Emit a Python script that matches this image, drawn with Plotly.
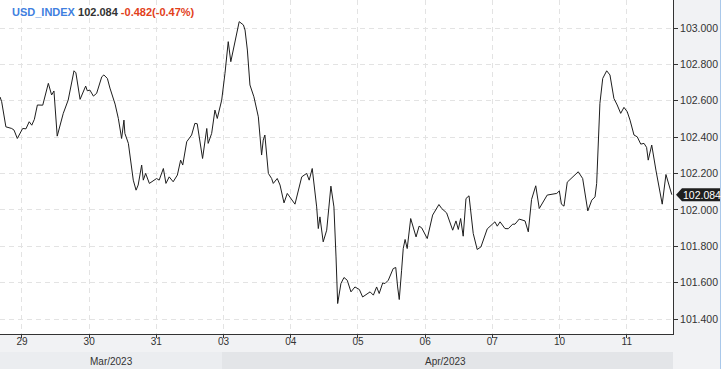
import plotly.graph_objects as go

# ---- data ----
times = [
    "2023-03-28 16:10", "2023-03-28 16:45", "2023-03-28 18:15", "2023-03-28 20:20", "2023-03-28 21:10",
    "2023-03-28 22:20", "2023-03-29 00:15", "2023-03-29 01:25", "2023-03-29 02:35", "2023-03-29 03:30",
    "2023-03-29 04:25", "2023-03-29 05:30", "2023-03-29 07:25", "2023-03-29 09:25", "2023-03-29 10:35",
    "2023-03-29 11:25", "2023-03-29 12:35", "2023-03-29 14:45", "2023-03-29 16:30", "2023-03-29 18:35",
    "2023-03-29 19:15", "2023-03-29 20:45", "2023-03-29 22:45", "2023-03-29 23:20", "2023-03-30 00:15",
    "2023-03-30 01:30", "2023-03-30 02:40", "2023-03-30 04:30", "2023-03-30 05:15", "2023-03-30 06:30",
    "2023-03-30 07:25", "2023-03-30 09:15", "2023-03-30 10:25", "2023-03-30 11:35", "2023-03-30 12:25",
    "2023-03-30 12:45", "2023-03-30 14:00", "2023-03-30 15:10", "2023-03-30 15:45", "2023-03-30 16:45",
    "2023-03-30 17:30", "2023-03-30 18:45", "2023-03-30 19:20", "2023-03-30 20:10", "2023-03-30 21:30",
    "2023-03-31 00:05", "2023-03-31 01:00", "2023-03-31 02:30", "2023-03-31 03:25", "2023-03-31 04:35",
    "2023-03-31 06:00", "2023-03-31 07:30", "2023-03-31 08:40", "2023-03-31 09:25", "2023-03-31 10:50",
    "2023-03-31 12:35", "2023-03-31 13:45", "2023-03-31 14:35", "2023-03-31 15:35", "2023-03-31 16:30",
    "2023-03-31 18:00", "2023-03-31 18:30", "2023-03-31 19:45", "2023-03-31 20:55", "2023-03-31 21:45",
    "2023-03-31 23:20", "2023-04-03 00:30", "2023-04-03 01:40", "2023-04-03 02:35", "2023-04-03 04:05",
    "2023-04-03 05:35", "2023-04-03 07:05", "2023-04-03 07:40", "2023-04-03 08:30", "2023-04-03 09:25",
    "2023-04-03 10:50", "2023-04-03 12:25", "2023-04-03 13:35", "2023-04-03 14:10", "2023-04-03 14:45",
    "2023-04-03 15:25", "2023-04-03 16:00", "2023-04-03 17:10", "2023-04-03 17:45", "2023-04-03 19:10",
    "2023-04-03 20:10", "2023-04-03 21:35", "2023-04-03 22:45", "2023-04-04 01:30", "2023-04-04 03:55",
    "2023-04-04 05:40", "2023-04-04 06:35", "2023-04-04 07:40", "2023-04-04 09:15", "2023-04-04 09:50",
    "2023-04-04 10:25", "2023-04-04 11:35", "2023-04-04 12:50", "2023-04-04 14:20", "2023-04-04 15:25",
    "2023-04-04 16:10", "2023-04-04 16:45", "2023-04-04 17:55", "2023-04-04 19:00", "2023-04-04 20:10",
    "2023-04-04 21:30", "2023-04-04 22:55", "2023-04-05 00:30", "2023-04-05 01:40", "2023-04-05 04:20",
    "2023-04-05 05:30", "2023-04-05 06:40", "2023-04-05 07:35", "2023-04-05 08:50", "2023-04-05 09:40",
    "2023-04-05 10:50", "2023-04-05 12:35", "2023-04-05 13:30", "2023-04-05 14:10", "2023-04-05 14:45",
    "2023-04-05 15:35", "2023-04-05 16:10", "2023-04-05 16:50", "2023-04-05 17:35", "2023-04-05 18:50",
    "2023-04-05 20:45", "2023-04-05 21:50", "2023-04-05 22:45", "2023-04-06 00:45", "2023-04-06 02:40",
    "2023-04-06 04:55", "2023-04-06 05:55", "2023-04-06 07:40", "2023-04-06 09:50", "2023-04-06 11:00",
    "2023-04-06 11:50", "2023-04-06 12:40", "2023-04-06 13:35", "2023-04-06 14:35", "2023-04-06 15:40",
    "2023-04-06 17:10", "2023-04-06 18:35", "2023-04-06 19:55", "2023-04-06 22:10", "2023-04-07 00:55",
    "2023-04-07 01:45", "2023-04-07 02:45", "2023-04-07 04:30", "2023-04-07 05:40", "2023-04-07 07:15",
    "2023-04-07 08:05", "2023-04-07 09:35", "2023-04-07 11:40", "2023-04-07 12:50", "2023-04-07 14:00",
    "2023-04-07 15:30", "2023-04-07 16:45", "2023-04-07 18:10", "2023-04-07 19:35", "2023-04-07 23:00",
    "2023-04-07 23:55", "2023-04-10 00:40", "2023-04-10 01:35", "2023-04-10 02:45", "2023-04-10 06:40",
    "2023-04-10 08:15", "2023-04-10 09:05", "2023-04-10 10:05", "2023-04-10 11:30", "2023-04-10 12:40",
    "2023-04-10 13:15", "2023-04-10 14:25", "2023-04-10 15:25", "2023-04-10 16:50", "2023-04-10 18:00",
    "2023-04-10 19:25", "2023-04-10 20:35", "2023-04-10 21:50", "2023-04-10 23:00", "2023-04-11 00:10",
    "2023-04-11 01:10", "2023-04-11 02:35", "2023-04-11 03:45", "2023-04-11 05:00", "2023-04-11 06:10",
    "2023-04-11 07:05", "2023-04-11 07:40", "2023-04-11 08:55", "2023-04-11 10:25", "2023-04-11 11:15",
    "2023-04-11 12:40", "2023-04-11 14:00", "2023-04-11 16:05",
]

prices = [
    102.621, 102.595, 102.457, 102.448, 102.439,
    102.393, 102.448, 102.446, 102.485, 102.466,
    102.498, 102.577, 102.576, 102.696, 102.632,
    102.654, 102.406, 102.531, 102.604, 102.765,
    102.754, 102.608, 102.681, 102.655, 102.659,
    102.626, 102.641, 102.732, 102.742, 102.723,
    102.670, 102.582, 102.503, 102.393, 102.494,
    102.421, 102.366, 102.237, 102.164, 102.109,
    102.137, 102.247, 102.164, 102.201, 102.146,
    102.173, 102.164, 102.228, 102.146, 102.182,
    102.155, 102.192, 102.274, 102.247, 102.375,
    102.412, 102.476, 102.474, 102.366, 102.283,
    102.448, 102.366, 102.421, 102.549, 102.503,
    102.604, 102.751, 102.925, 102.815, 102.916,
    103.035, 103.017, 102.989, 102.879, 102.687,
    102.622, 102.512, 102.302, 102.384, 102.412,
    102.292, 102.201, 102.173, 102.146, 102.173,
    102.137, 102.039, 102.091, 102.032, 102.182,
    102.201, 102.164, 102.228, 102.017, 101.898,
    101.962, 101.825, 101.889, 102.131, 102.017,
    101.742, 101.486, 101.596, 101.629, 101.614,
    101.550, 101.577, 101.563, 101.522, 101.550,
    101.532, 101.577, 101.541, 101.599, 101.596,
    101.614, 101.678, 101.684, 101.577, 101.508,
    101.669, 101.788, 101.838, 101.788, 101.953,
    101.852, 101.911, 101.902, 101.843, 101.972,
    102.030, 102.008, 101.984, 101.889, 101.940,
    101.893, 101.953, 101.856, 102.063, 102.078,
    101.871, 101.783, 101.797, 101.896, 101.935,
    101.911, 101.935, 101.898, 101.897, 101.922,
    101.922, 101.950, 101.940, 101.880, 102.058,
    102.133, 102.008, 102.045, 102.082, 102.091,
    102.105, 102.032, 102.021, 102.153, 102.210,
    102.173, 102.100, 101.995, 102.054, 102.072,
    102.146, 102.586, 102.723, 102.765, 102.742,
    102.613, 102.577, 102.531, 102.564, 102.540,
    102.494, 102.412, 102.402, 102.362, 102.366,
    102.344, 102.274, 102.357, 102.219, 102.149,
    102.032, 102.195, 102.084,
]

symbol = "USD_INDEX"
last_price = 102.084
change = -0.482
change_pct = -0.47

day_ticks = ["2023-03-29", "2023-03-30", "2023-03-31", "2023-04-03", "2023-04-04",
             "2023-04-05", "2023-04-06", "2023-04-07", "2023-04-10", "2023-04-11"]
day_labels = ["29", "30", "31", "03", "04", "05", "06", "07", "10", "11"]
y_ticks = [101.4, 101.6, 101.8, 102.0, 102.2, 102.4, 102.6, 102.8, 103.0]
months = ["Mar/2023", "Apr/2023"]
x_range = ["2023-03-28 16:09", "2023-04-11 16:31"]

# ---- figure ----
FONT = "Liberation Sans, Arial, sans-serif"
PLOT_W, PLOT_H = 673, 334
GRID_DASH = "5px,4px"
fig = go.Figure()
fig.add_trace(go.Scatter(x=times, y=prices, mode="lines",
                         line=dict(color="#1e1e1e", width=1), hoverinfo="skip"))

fig.update_layout(
    width=721, height=369,
    margin=dict(l=0, r=48, t=0, b=35),
    paper_bgcolor="#f1f2f4",
    plot_bgcolor="#ffffff",
    showlegend=False,
    font=dict(family=FONT, size=10, color="#333333"),
)

fig.update_xaxes(
    range=x_range,
    rangebreaks=[dict(bounds=["sat", "mon"])],
    tickvals=day_ticks, ticktext=day_labels,
    ticks="outside", ticklen=3, tickcolor="#333333",
    ticklabelstandoff=-5,
    tickfont=dict(size=10, color="#333333"),
    showgrid=True, gridcolor="#e3e3e3", griddash=GRID_DASH, gridwidth=1,
    showline=True, linecolor="#333333", linewidth=1, mirror=True,
    zeroline=False,
)
fig.update_yaxes(
    side="right",
    range=[101.3185, 103.154],
    tickvals=y_ticks, tickformat=".3f",
    ticks="outside", ticklen=4, tickcolor="#333333",
    tickfont=dict(size=10.5, color="#333333"),
    showgrid=True, gridcolor="#e3e3e3", griddash=GRID_DASH, gridwidth=1,
    showline=True, linecolor="#333333", linewidth=1, mirror=True,
    zeroline=False,
)

# month band under the axis (Mar ends where the "03" tick sits)
split = 222 / PLOT_W
band = [(0, split, "#ebedf0", 111 / PLOT_W), (split, 1, "#e3e5e8", 445 / PLOT_W)]
for (x0, x1, col, xc), name in zip(band, months):
    fig.add_shape(type="rect", xref="paper", yref="paper",
                  x0=x0, x1=x1, y0=-35 / PLOT_H, y1=-18 / PLOT_H,
                  fillcolor=col, line=dict(width=0), layer="below")
    fig.add_annotation(xref="paper", yref="paper", x=xc, y=-27 / PLOT_H,
                       xanchor="center", yanchor="middle",
                       text=name, showarrow=False,
                       font=dict(size=10, color="#333333"))

# thin blue edge at the far right
fig.add_shape(type="line", xref="paper", yref="paper",
              x0=720.5 / PLOT_W, x1=720.5 / PLOT_W, y0=-35 / PLOT_H, y1=1,
              line=dict(color="#a9c8ea", width=1))

# header text
header = (f"<span style='color:#3f7fe0'><b>{symbol}</b></span> "
          f"<span style='color:#333333'><b>{last_price:.3f}</b></span> "
          f"<span style='color:#e2401b'><b>{change:.3f}({change_pct:.2f}%)</b></span>")
fig.add_annotation(xref="paper", yref="paper", x=0, y=1, xanchor="left", yanchor="top",
                   xshift=10, yshift=-4, text=header, showarrow=False,
                   font=dict(family=FONT, size=11))

# last price marker on the right axis
fig.add_shape(type="path", xref="paper", yref="y",
              xsizemode="pixel", ysizemode="pixel",
              xanchor=1, yanchor=last_price,
              path="M 3,0 L 9,-6.5 L 47,-6.5 L 47,6.5 L 9,6.5 Z",
              fillcolor="#1f1f1f", line=dict(width=0))
fig.add_annotation(xref="paper", yref="y", x=1, y=last_price, xanchor="left",
                   xshift=8, text=f"{last_price:.3f}", showarrow=False,
                   font=dict(size=10.5, color="#ffffff"))

fig.write_html("out.html")
